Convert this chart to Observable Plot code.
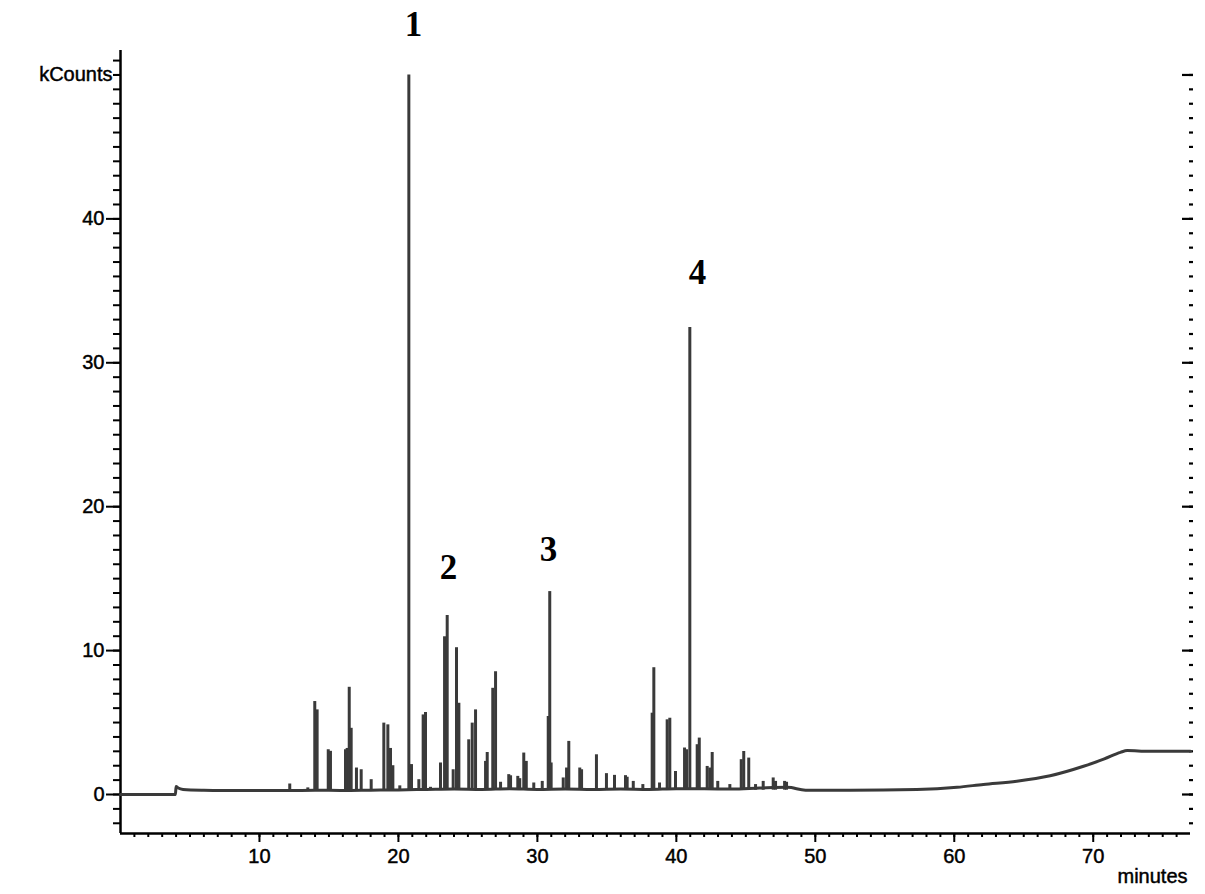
<!DOCTYPE html>
<html>
<head>
<meta charset="utf-8">
<script src="https://cdn.jsdelivr.net/npm/d3@7"></script>
<script src="https://cdn.jsdelivr.net/npm/@observablehq/plot@0.6"></script>
<style>
  html, body { margin: 0; padding: 0; background: #fff; }
  #chart svg { display: block; }
  #chart g[aria-label="y-axis tick label"] text,
  #chart g[aria-label="x-axis tick label"] text,
  #chart g.unit-label text { stroke: #000; stroke-width: 0.45px; }
</style>
</head>
<body>
<div id="chart"></div>
<script>
// ---- Data ----
// Baseline anchor points (minutes, kCounts)
const baseTimes  = [0, 3.95, 4.0, 4.15, 4.5, 6, 8, 10, 12, 14, 16, 18, 20, 22, 24, 26, 28, 30, 32, 34, 36, 38, 40, 42, 44, 46, 48, 49.3, 52.5, 57.3, 60.2, 62.1, 64.5, 66.9, 69.3, 70.8, 71.96, 72.45, 74, 77];
const baseValues = [0, 0, 0.55, 0.45, 0.35, 0.3, 0.28, 0.27, 0.27, 0.3, 0.28, 0.3, 0.32, 0.35, 0.38, 0.35, 0.4, 0.35, 0.38, 0.35, 0.38, 0.35, 0.4, 0.4, 0.38, 0.45, 0.5, 0.3, 0.3, 0.35, 0.5, 0.7, 0.92, 1.3, 1.96, 2.47, 2.93, 3.05, 3.0, 3.0];

// Peaks: retention time (minutes) and apex height (kCounts)
const peakTimes = [12.18, 13.48, 13.98, 14.15, 14.95, 15.11, 16.19, 16.31, 16.46, 16.6, 16.98, 17.32, 18.04, 18.95, 19.24, 19.43, 19.6, 20.1, 20.75, 20.94, 21.47, 21.78, 21.95, 22.31, 23.03, 23.32, 23.51, 23.94, 24.18, 24.35, 25.06, 25.31, 25.55, 26.27, 26.39, 26.79, 26.99, 27.35, 27.94, 28.07, 28.59, 28.73, 29.02, 29.2, 29.74, 30.35, 30.78, 30.89, 30.99, 31.86, 32.1, 32.26, 33.05, 33.18, 34.25, 34.97, 35.55, 36.34, 36.46, 36.9, 37.59, 38.26, 38.38, 38.79, 39.34, 39.53, 39.94, 40.59, 40.73, 40.97, 41.5, 41.65, 42.22, 42.41, 42.58, 42.98, 43.85, 44.67, 44.85, 45.21, 45.7, 46.25, 46.97, 47.14, 47.79, 47.93];
const peakHeights = [0.73, 0.46, 6.46, 5.88, 3.11, 3.0, 3.11, 3.2, 7.45, 4.6, 1.84, 1.72, 1.03, 4.96, 4.84, 3.2, 2.0, 0.6, 50.0, 2.08, 1.03, 5.53, 5.7, 0.5, 2.19, 10.96, 12.44, 1.72, 10.2, 6.34, 3.8, 4.96, 5.88, 2.3, 2.92, 7.38, 8.53, 0.85, 1.38, 1.3, 1.26, 1.1, 2.88, 2.3, 0.8, 0.91, 5.42, 14.1, 2.19, 1.15, 1.84, 3.69, 1.84, 1.72, 2.76, 1.45, 1.33, 1.31, 1.2, 0.91, 0.69, 5.65, 8.81, 0.8, 5.19, 5.3, 1.6, 3.23, 3.11, 32.45, 3.46, 3.92, 1.95, 1.84, 2.92, 0.91, 0.69, 2.42, 2.99, 2.53, 0.69, 0.91, 1.15, 0.91, 0.91, 0.85];
const peakBase = 0.3;

// Peak annotations
const labelText   = ["1", "2", "3", "4"];
const labelTimes  = [21.09, 23.6, 30.8, 41.52];
const labelValues = [53.5, 15.77, 16.99, 36.24];

// Axis ticks
const xMajorTicks = [10, 20, 30, 40, 50, 60, 70];
const xMinorTicks = d3.range(1, 77);
const yMajorTicks = [0, 10, 20, 30, 40];
const yMinorTicks = d3.range(-2, 52);
const yRightMinor = d3.range(-2, 51);
const yRightMajor = [0, 10, 20, 30, 40, 50];
const yUnitTick = [50];
const yUnitLabel = "kCounts";
const xUnitLabel = "minutes";

// ---- Tables built from the arrays ----
const baseline = baseTimes.map((t, i) => ({t, v: baseValues[i]}));
const peaks = peakTimes.map((t, i) => ({t, h: peakHeights[i]}));
const labels = labelText.map((s, i) => ({s, t: labelTimes[i], v: labelValues[i]}));

const traceColor = "#3a3a3a";
const none = () => "";

const chart = Plot.plot({
  width: 1205,
  height: 894,
  marginLeft: 120,
  marginRight: 15,
  marginTop: 50,
  marginBottom: 61,
  style: {fontFamily: "'Liberation Sans', Arial, sans-serif", fontSize: "20px", color: "#000", background: "#fff", overflow: "visible"},
  x: {domain: [0, 77], label: null},
  y: {domain: [-2.71, 51.7], label: null},
  marks: [
    // axis lines
    Plot.ruleX([0], {stroke: "#000", strokeWidth: 2.5}),
    Plot.ruleY([-2.71], {stroke: "#000", strokeWidth: 2.5}),
    // left axis
    Plot.axisY(yMinorTicks, {tickSize: 7, tickFormat: none, label: null, strokeWidth: 2}),
    Plot.axisY(yMajorTicks, {tickSize: 14, tickPadding: 2, label: null, strokeWidth: 2, fontSize: 20, fill: "#000"}),
    Plot.axisY(yUnitTick, {tickSize: 7, tickPadding: 1, tickFormat: () => yUnitLabel, label: null, strokeWidth: 2, fontSize: 20, fill: "#000"}),
    // right axis (ticks only, pointing inward)
    Plot.axisY(yRightMinor, {anchor: "right", tickSize: 4, dx: -2, tickFormat: none, label: null, strokeWidth: 2.2}),
    Plot.axisY(yRightMajor, {anchor: "right", tickSize: 11, dx: -9, tickFormat: none, label: null, strokeWidth: 2.2}),
    // bottom axis
    Plot.axisX(xMinorTicks, {tickSize: 4, tickFormat: none, label: null, strokeWidth: 2}),
    Plot.axisX(xMajorTicks, {tickSize: 9, tickPadding: 6, label: null, strokeWidth: 2, fontSize: 20, fill: "#000"}),
    Plot.text([xUnitLabel], {frameAnchor: "bottom-right", textAnchor: "end", lineAnchor: "bottom", dx: -3, dy: 49, fontSize: 20, fill: "#000", className: "unit-label"}),
    // chromatogram trace
    Plot.lineY(baseline, {x: "t", y: "v", stroke: traceColor, strokeWidth: 3, curve: "monotone-x"}),
    Plot.ruleX(peaks, {x: "t", y1: peakBase, y2: "h", stroke: traceColor, strokeWidth: 3}),
    // peak labels
    Plot.text(labels, {x: "t", y: "v", text: "s", fontFamily: "'Liberation Serif', 'Times New Roman', serif", fontWeight: "bold", fontSize: 35, fill: "#000", lineAnchor: "middle"})
  ]
});

document.getElementById("chart").appendChild(chart);
</script>
</body>
</html>
